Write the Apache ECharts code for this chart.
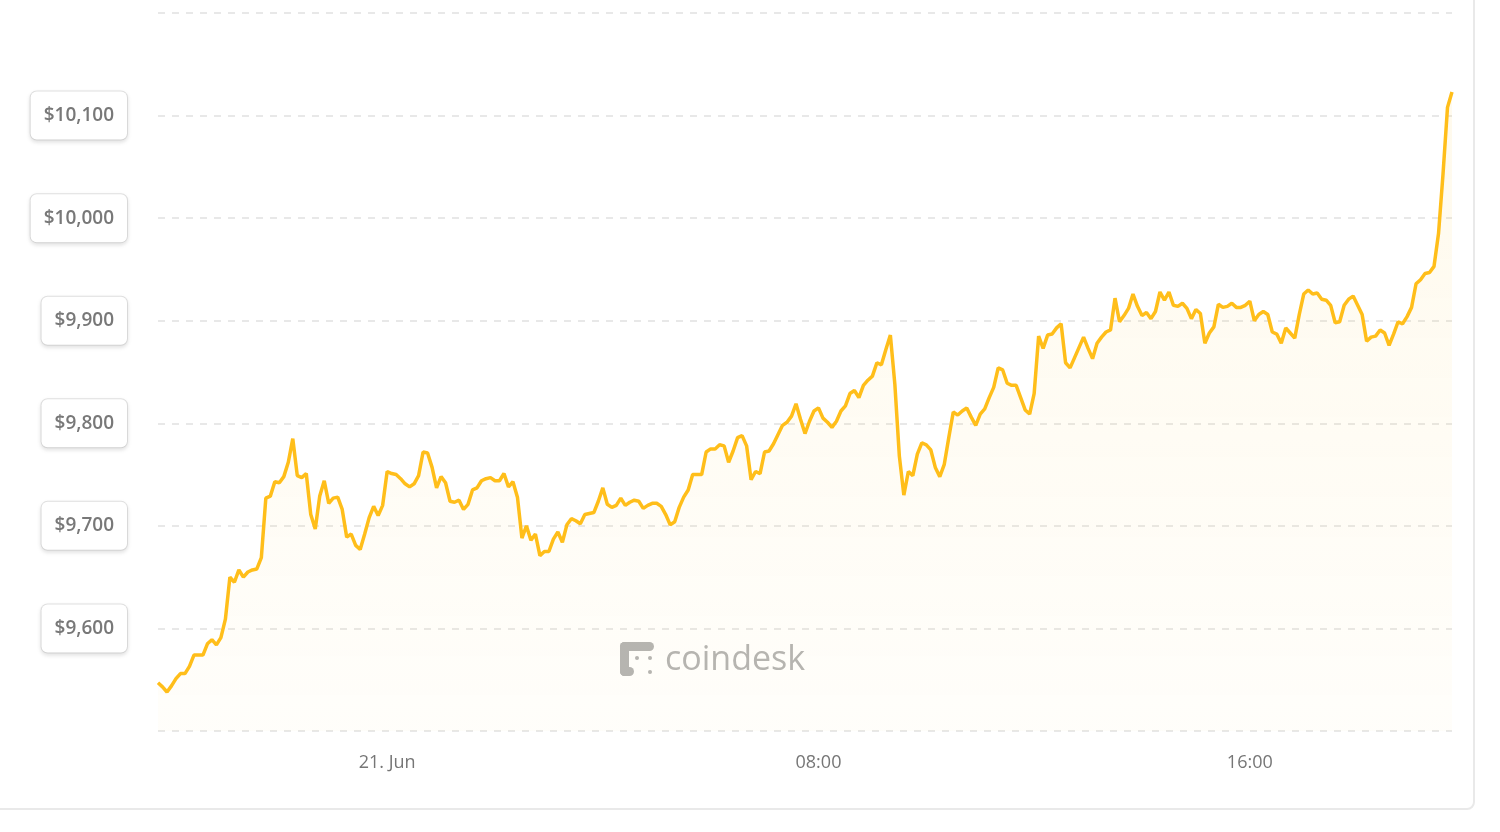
<!DOCTYPE html>
<html>
<head>
<meta charset="utf-8">
<script src="https://cdn.jsdelivr.net/npm/echarts@6/dist/echarts.min.js"></script>
<style>
  html, body { margin: 0; padding: 0; background: #ffffff; }
  #card { position: absolute; left: -20px; top: -20px; width: 1495px; height: 830px;
          border: 2px solid #e9e9e9; border-radius: 8px; box-sizing: border-box; }
  #chart { position: absolute; left: 0; top: 0; width: 1500px; height: 832px; }
</style>
</head>
<body>
<div id="card"></div>
<div id="chart"></div>
<script>
// BTC price, 5-minute samples from 20 Jun 19:45 to 21 Jun 19:45
const startTime = { day: 20, hour: 19, minute: 45 };
const stepMinutes = 5;
const prices = [
  9547, 9543, 9538, 9544, 9551, 9556, 9556, 9563, 9574, 9574,
  9574, 9585, 9589, 9584, 9591, 9609, 9650, 9645, 9657, 9650,
  9655, 9657, 9658, 9669, 9727, 9729, 9743, 9742, 9748, 9762,
  9785, 9749, 9747, 9751, 9711, 9697, 9729, 9744, 9722, 9727,
  9728, 9716, 9689, 9692, 9681, 9677, 9692, 9708, 9719, 9710,
  9720, 9753, 9751, 9750, 9746, 9741, 9738, 9741, 9749, 9772,
  9771, 9757, 9737, 9748, 9742, 9724, 9723, 9725, 9716, 9721,
  9735, 9737, 9744, 9746, 9747, 9744, 9744, 9751, 9738, 9743,
  9728, 9688, 9700, 9686, 9692, 9671, 9675, 9675, 9687, 9694,
  9684, 9701, 9707, 9705, 9702, 9711, 9712, 9713, 9724, 9737,
  9721, 9718, 9720, 9727, 9720, 9723, 9725, 9724, 9717, 9720,
  9722, 9722, 9719, 9711, 9701, 9704, 9718, 9728, 9735, 9750,
  9750, 9750, 9772, 9775, 9775, 9779, 9778, 9762, 9773, 9786,
  9788, 9778, 9745, 9753, 9751, 9772, 9773, 9780, 9789, 9798,
  9801, 9807, 9819, 9804, 9790, 9802, 9812, 9815, 9805, 9801,
  9796, 9802, 9812, 9817, 9829, 9832, 9825, 9837, 9842, 9846,
  9859, 9857, 9872, 9886, 9838, 9768, 9730, 9753, 9749, 9770,
  9781, 9779, 9774, 9757, 9748, 9760, 9786, 9811, 9808, 9812,
  9815, 9806, 9798, 9809, 9814, 9825, 9835, 9854, 9852, 9839,
  9837, 9837, 9825, 9813, 9809, 9829, 9885, 9873, 9886, 9887,
  9893, 9897, 9859, 9854, 9864, 9874, 9884, 9873, 9863, 9878,
  9884, 9889, 9891, 9922, 9899, 9905, 9912, 9926, 9914, 9905,
  9908, 9902, 9909, 9928, 9920, 9928, 9915, 9914, 9917, 9912,
  9902, 9911, 9907, 9878, 9888, 9894, 9916, 9913, 9914, 9917,
  9913, 9913, 9915, 9919, 9900, 9906, 9909, 9906, 9889, 9887,
  9878, 9893, 9888, 9883, 9906, 9926, 9930, 9926, 9927, 9921,
  9920, 9915, 9898, 9899, 9915, 9921, 9924, 9915, 9906, 9880,
  9884, 9885, 9891, 9888, 9876, 9887, 9899, 9897, 9904, 9913,
  9936, 9940, 9946, 9947, 9953, 9985, 10043, 10108, 10123
];
const tickLabels = { "21 00:00": "21. Jun", "21 08:00": "08:00", "21 16:00": "16:00" };
const yMin = 9500, yMax = 10200, yStep = 100;

function pad(n) { return (n < 10 ? '0' : '') + n; }
const categories = prices.map((_, i) => {
  const total = startTime.hour * 60 + startTime.minute + i * stepMinutes;
  const day = startTime.day + Math.floor(total / 1440);
  const m = total % 1440;
  return day + ' ' + pad(Math.floor(m / 60)) + ':' + pad(m % 60);
});

const chart = echarts.init(document.getElementById('chart'), null, { renderer: 'canvas' });
const grey = '#b4b4b4';
chart.setOption({
  animation: false,
  grid: { left: 158, right: 48, top: 13, bottom: 101, containLabel: false },
  xAxis: {
    type: 'category',
    data: categories,
    boundaryGap: false,
    axisLine: { show: false },
    axisTick: { show: false },
    splitLine: { show: false },
    axisLabel: {
      interval: (idx, val) => tickLabels[val] !== undefined,
      formatter: (val) => tickLabels[val] || '',
      color: '#767676',
      fontFamily: 'Open Sans',
      fontSize: 18,
      margin: 23
    }
  },
  yAxis: {
    type: 'value',
    min: yMin, max: yMax, interval: yStep,
    axisLine: { show: false },
    axisTick: { show: false },
    splitLine: { show: true, lineStyle: { color: '#e8e8e8', width: 2, type: [7, 7] } },
    axisLabel: {
      showMinLabel: false,
      showMaxLabel: false,
      margin: 31,
      formatter: (v) => '$' + v.toLocaleString('en-US'),
      color: '#787878',
      fontFamily: 'Open Sans',
      fontWeight: 600,
      fontSize: 19,
      lineHeight: 20,
      backgroundColor: '#ffffff',
      borderColor: '#e2e2e2',
      borderWidth: 1,
      borderRadius: 6,
      padding: [16, 13, 12, 13],
      shadowColor: 'rgba(0,0,0,0.10)',
      shadowBlur: 4,
      shadowOffsetY: 2
    }
  },
  graphic: [
    { type: 'text', left: 665, top: 643, z: 1,
      style: { text: 'coindesk', font: '34px "Open Sans"', fill: grey } },
    { type: 'group', left: 620, top: 642, z: 1, children: [
      { type: 'rect', shape: { x: 1, y: 1, width: 34, height: 9, r: 4.5 }, style: { fill: grey } },
      { type: 'rect', shape: { x: 1, y: 1, width: 9, height: 34, r: 4.5 }, style: { fill: grey } },
      { type: 'rect', shape: { x: 1, y: 26, width: 14, height: 9, r: 4.5 }, style: { fill: grey } },
      { type: 'circle', shape: { cx: 18, cy: 17, r: 2 }, style: { fill: grey } },
      { type: 'circle', shape: { cx: 31, cy: 17, r: 2 }, style: { fill: grey } },
      { type: 'circle', shape: { cx: 31, cy: 31, r: 2 }, style: { fill: grey } }
    ] }
  ],
  series: [{
    type: 'line',
    data: prices,
    showSymbol: false,
    smooth: false,
    z: 3,
    lineStyle: { color: '#ffbe1a', width: 3.5 },
    itemStyle: { color: '#ffbe1a' },
    areaStyle: {
      origin: 'start',
      color: new echarts.graphic.LinearGradient(0, 0, 0, 1, [
        { offset: 0, color: 'rgba(255, 196, 40, 0.12)' },
        { offset: 1, color: 'rgba(255, 196, 40, 0.03)' }
      ])
    }
  }]
});
</script>
</body>
</html>
